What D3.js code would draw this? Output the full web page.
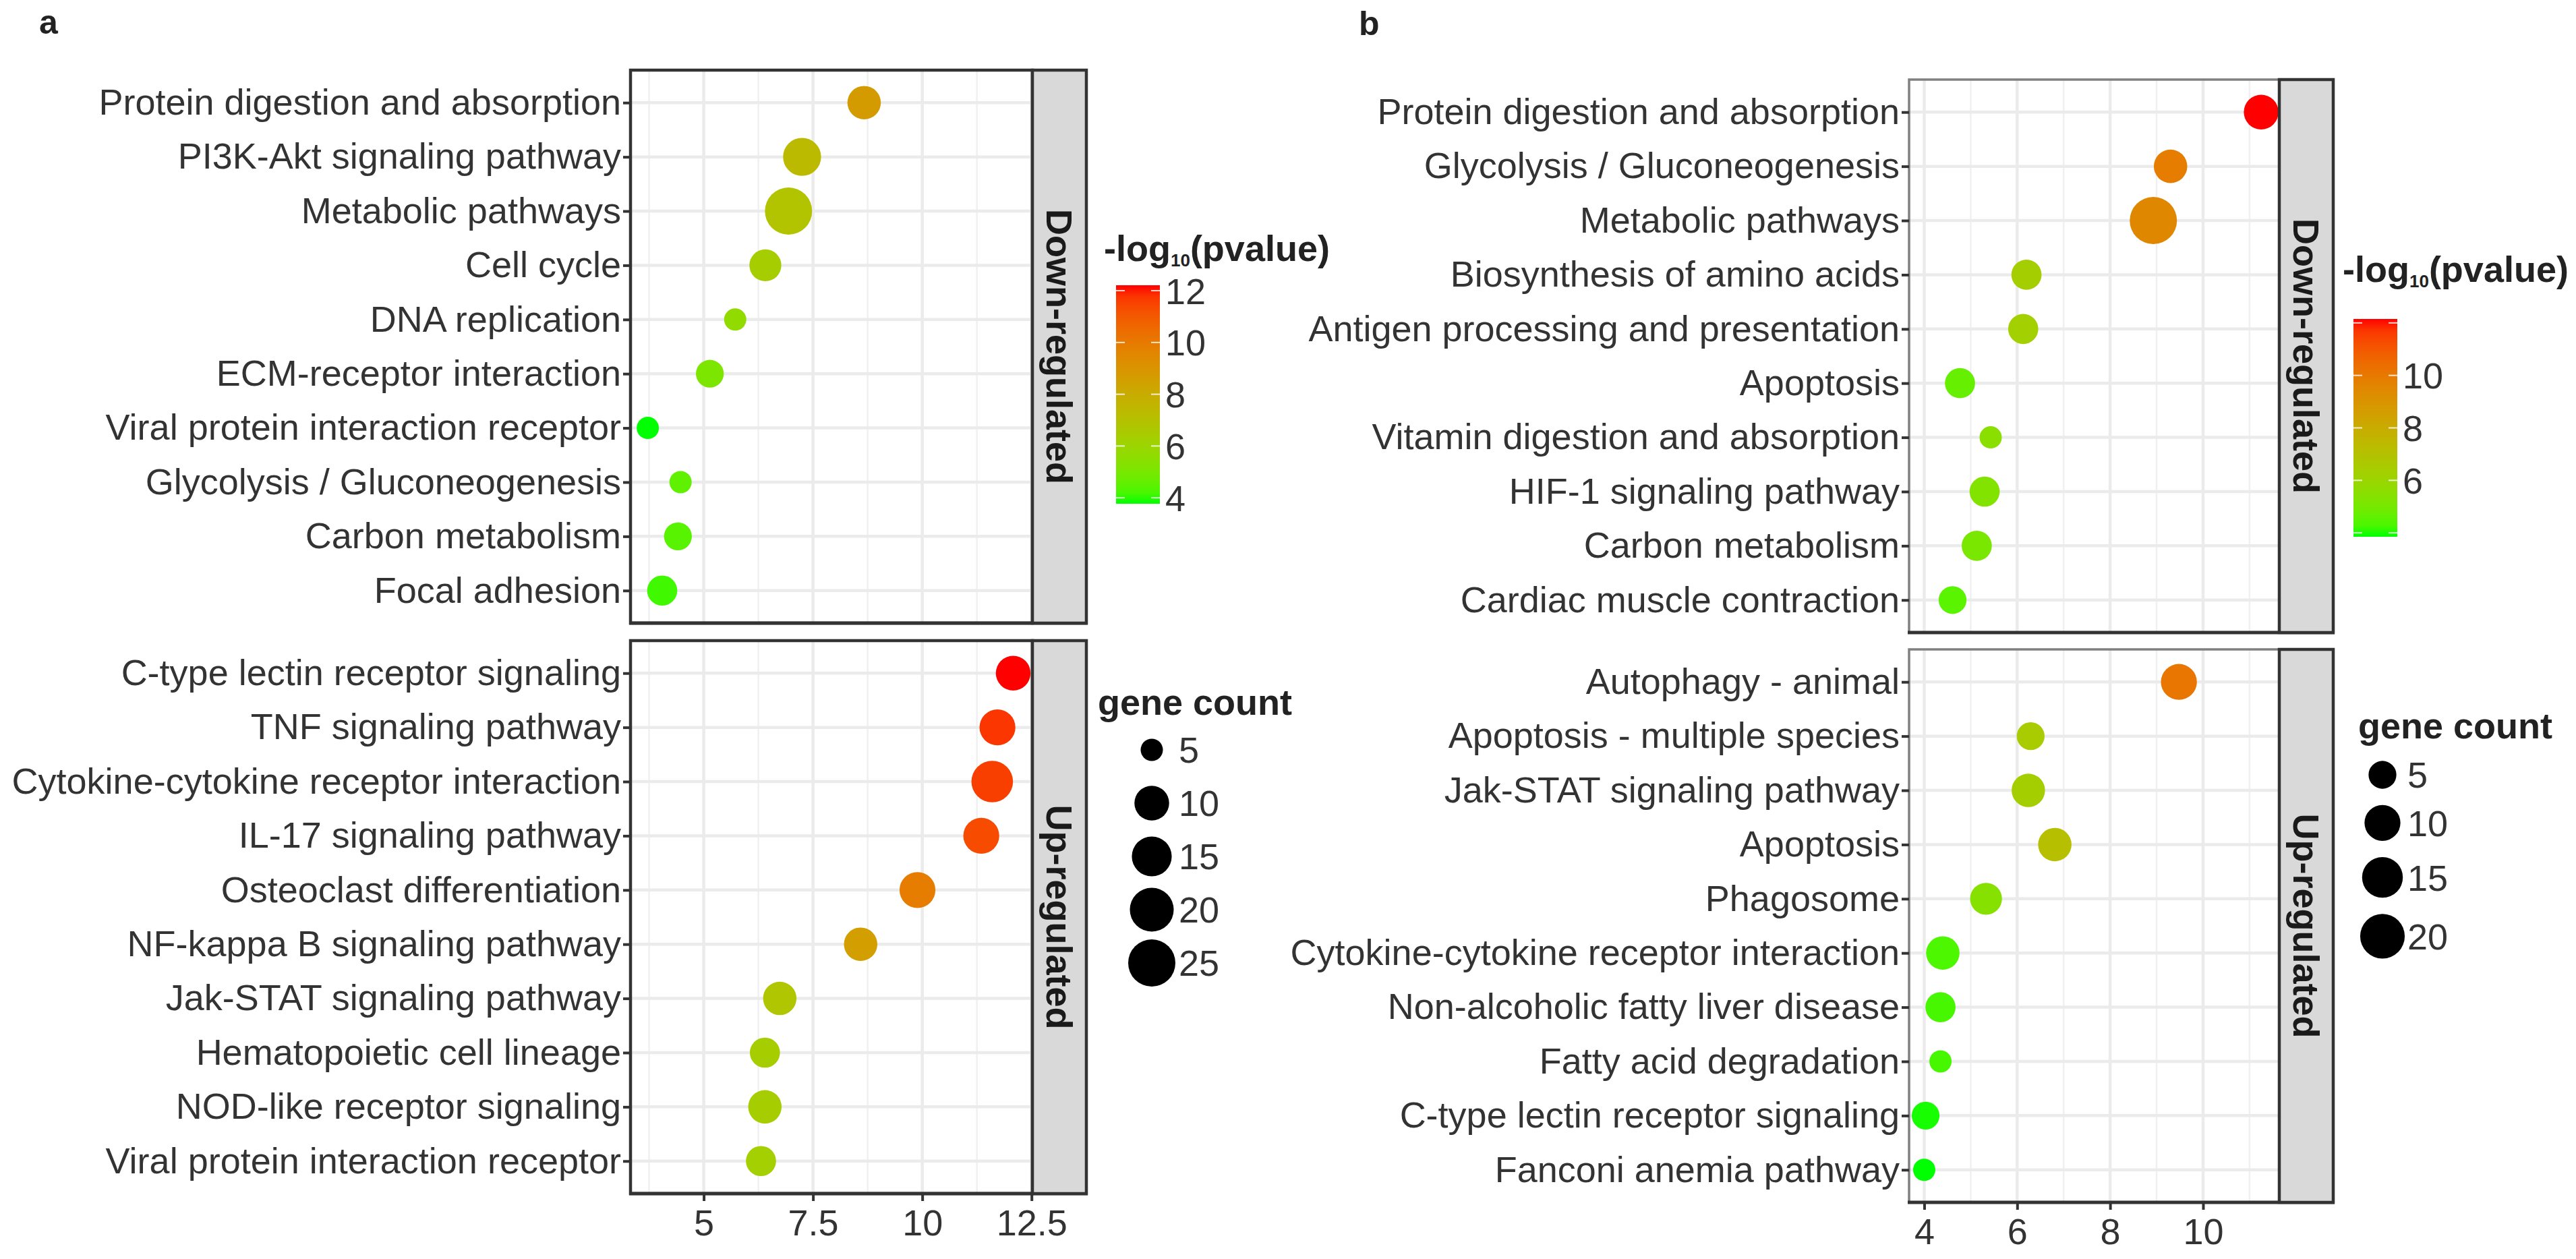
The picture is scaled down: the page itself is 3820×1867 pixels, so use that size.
<!DOCTYPE html>
<html>
<head>
<meta charset="utf-8">
<script src="https://cdn.jsdelivr.net/npm/d3@7"></script>
<style>
  body { margin: 0; background: #fff; }
  svg { display: block; font-family: "Liberation Sans", Arial, sans-serif; }
</style>
</head>
<body>
<svg id="chart"></svg>
<script>
// ---- panel a data ----
const termsADown = ["Protein digestion and absorption", "PI3K-Akt signaling pathway", "Metabolic pathways", "Cell cycle",
  "DNA replication", "ECM-receptor interaction", "Viral protein interaction receptor", "Glycolysis / Gluconeogenesis",
  "Carbon metabolism", "Focal adhesion"];
const xADown = [8.67, 7.25, 6.94, 6.41, 5.72, 5.14, 3.72, 4.47, 4.41, 4.05];
const pADown = [8.7, 7.3, 6.9, 6.4, 5.7, 5.1, 3.77, 4.5, 4.4, 4.1];
const countADown = [9, 13, 25, 8, 5, 6, 5, 5, 6, 7];

const termsAUp = ["C-type lectin receptor signaling", "TNF signaling pathway", "Cytokine-cytokine receptor interaction",
  "IL-17 signaling pathway", "Osteoclast differentiation", "NF-kappa B signaling pathway", "Jak-STAT signaling pathway",
  "Hematopoietic cell lineage", "NOD-like receptor signaling", "Viral protein interaction receptor"];
const xAUp = [12.08, 11.72, 11.6, 11.35, 9.89, 8.59, 6.74, 6.40, 6.40, 6.31];
const pAUp = [12.21, 11.75, 11.6, 11.35, 9.9, 8.6, 6.75, 6.4, 6.4, 6.3];
const countAUp = [10, 11, 17, 11, 11, 9, 9, 7, 9, 7];

const ticksA = [5, 7.5, 10, 12.5];
const minorA = [3.75, 6.25, 8.75, 11.25];
const colourTicksA = [4, 6, 8, 10, 12];
const colourLabelsA = [4, 6, 8, 10, 12];
const sizeBreaksA = [5, 10, 15, 20, 25];

// ---- panel b data ----
const termsBDown = ["Protein digestion and absorption", "Glycolysis / Gluconeogenesis", "Metabolic pathways",
  "Biosynthesis of amino acids", "Antigen processing and presentation", "Apoptosis", "Vitamin digestion and absorption",
  "HIF-1 signaling pathway", "Carbon metabolism", "Cardiac muscle contraction"];
const xBDown = [11.25, 9.30, 8.93, 6.20, 6.13, 4.77, 5.43, 5.30, 5.13, 4.61];
const pBDown = [12.15, 9.9, 9.5, 6.4, 6.3, 4.7, 5.5, 5.3, 5.1, 4.5];
const countBDown = [9, 8, 24, 6, 6, 6, 4, 6, 6, 5];

const termsBUp = ["Autophagy - animal", "Apoptosis - multiple species", "Jak-STAT signaling pathway", "Apoptosis",
  "Phagosome", "Cytokine-cytokine receptor interaction", "Non-alcoholic fatty liver disease", "Fatty acid degradation",
  "C-type lectin receptor signaling", "Fanconi anemia pathway"];
const xBUp = [9.48, 6.29, 6.24, 6.81, 5.33, 4.40, 4.35, 4.35, 4.03, 4.00];
const pBUp = [10.1, 6.5, 6.4, 7.1, 5.4, 4.3, 4.25, 4.25, 3.9, 3.85];
const countBUp = [10, 5, 8, 8, 7, 8, 6, 4, 5, 4];

const ticksB = [4, 6, 8, 10];
const minorB = [5, 7, 9, 11];
const colourTicksB = [4, 6, 8, 10, 12];
const colourLabelsB = [6, 8, 10];
const sizeBreaksB = [5, 10, 15, 20];

const facetNames = ["Down-regulated", "Up-regulated"];

const W = 3820, H = 1867;
const FS = 54;
const TXT = "#333";

const svg = d3.select("#chart").attr("width", W).attr("height", H);

function makeColour(values) {
  return d3.scaleLinear().domain(d3.extent(values)).range(["#00ff00", "#ff0000"]).interpolate(d3.interpolateLab);
}

function makeRadius(counts) {
  const [lo, hi] = d3.extent(counts);
  const r = d3.scaleLinear().domain([0, 1]).range([16.5, 35]);
  return v => r(Math.sqrt((v - lo) / (hi - lo)));
}

function drawPanel(cfg) {
  const x = d3.scaleLinear().domain(cfg.xDomain).range([cfg.left, cfg.right]);
  const colour = makeColour(cfg.facets.flatMap(f => f.p));
  const radius = makeRadius(cfg.facets.flatMap(f => f.n));

  cfg.facets.forEach((f, fi) => {
    const g = svg.append("g");
    const y = d3.scalePoint().domain(f.terms).range([f.top, f.bottom]).padding(0.6);

    // grid
    g.selectAll(".minor").data(cfg.minor).join("line")
      .attr("x1", d => x(d)).attr("x2", d => x(d))
      .attr("y1", f.top).attr("y2", f.bottom)
      .attr("stroke", "#f0f0f0").attr("stroke-width", 2.5);
    g.selectAll(".major").data(cfg.ticks).join("line")
      .attr("x1", d => x(d)).attr("x2", d => x(d))
      .attr("y1", f.top).attr("y2", f.bottom)
      .attr("stroke", "#ebebeb").attr("stroke-width", 4.5);
    g.selectAll(".hgrid").data(f.terms).join("line")
      .attr("x1", cfg.left).attr("x2", cfg.right)
      .attr("y1", d => y(d)).attr("y2", d => y(d))
      .attr("stroke", "#ebebeb").attr("stroke-width", 4.5);

    // points
    const pts = f.terms.map((t, i) => ({ t, x: f.x[i], p: f.p[i], n: f.n[i] }));
    g.selectAll("circle").data(pts).join("circle")
      .attr("cx", d => x(d.x))
      .attr("cy", d => y(d.t))
      .attr("r", d => radius(d.n))
      .attr("fill", d => colour(d.p));

    // panel border
    g.append("rect")
      .attr("x", cfg.left).attr("y", f.top)
      .attr("width", cfg.right - cfg.left).attr("height", f.bottom - f.top)
      .attr("fill", "none").attr("stroke", cfg.border).attr("stroke-width", cfg.borderW);
    g.append("line")
      .attr("x1", cfg.left - 2).attr("x2", cfg.right + cfg.stripW + 2)
      .attr("y1", f.bottom).attr("y2", f.bottom)
      .attr("stroke", "#333").attr("stroke-width", 5);

    // strip
    g.append("rect")
      .attr("x", cfg.right).attr("y", f.top)
      .attr("width", cfg.stripW).attr("height", f.bottom - f.top)
      .attr("fill", "#d9d9d9").attr("stroke", "#333").attr("stroke-width", 4.5);
    g.append("text")
      .attr("transform", `translate(${cfg.right + cfg.stripW / 2},${(f.top + f.bottom) / 2}) rotate(90)`)
      .attr("text-anchor", "middle").attr("dy", "0.36em")
      .attr("font-size", FS).attr("font-weight", "bold").attr("fill", "#1a1a1a")
      .text(facetNames[fi]);

    // y axis
    const ya = g.append("g").attr("transform", `translate(${cfg.left},0)`)
      .call(d3.axisLeft(y).tickSize(11).tickPadding(3));
    ya.select(".domain").remove();
    ya.selectAll(".tick line").attr("stroke", "#333").attr("stroke-width", 4);
    ya.selectAll(".tick text").attr("font-size", FS).attr("fill", TXT)
      .attr("font-family", "'Liberation Sans', Arial, sans-serif");

    // x axis on the last facet
    if (fi === cfg.facets.length - 1) {
      const xa = g.append("g").attr("transform", `translate(0,${f.bottom})`)
        .call(d3.axisBottom(x).tickValues(cfg.ticks).tickFormat(d => String(d)).tickSize(11).tickPadding(13));
      xa.select(".domain").remove();
      xa.selectAll(".tick line").attr("stroke", "#333").attr("stroke-width", 4);
      xa.selectAll(".tick text").attr("font-size", FS).attr("fill", TXT)
        .attr("font-family", "'Liberation Sans', Arial, sans-serif");
    }
  });

  // panel letter
  svg.append("text").attr("x", cfg.letterX).attr("y", cfg.letterY)
    .attr("font-size", 50).attr("font-weight", "bold").attr("fill", "#222").text(cfg.letter);

  // colour legend
  const L = cfg.legend;
  const title = svg.append("text").attr("x", L.titleX).attr("y", L.titleY)
    .attr("font-size", FS).attr("font-weight", "bold").attr("fill", "#222");
  title.append("tspan").text("-log");
  title.append("tspan").attr("font-size", 26).attr("dy", 8).text("10");
  title.append("tspan").attr("dy", -8).text("(pvalue)");

  const cd = colour.domain();
  const cy = d3.scaleLinear().domain(cd).range([L.barBottom, L.barTop]);
  const gradId = "grad" + cfg.letter;
  const grad = svg.append("defs").append("linearGradient").attr("id", gradId)
    .attr("x1", 0).attr("x2", 0).attr("y1", 1).attr("y2", 0);
  d3.range(0, 1.0001, 0.05).forEach(t => {
    grad.append("stop").attr("offset", t).attr("stop-color", colour(cd[0] + t * (cd[1] - cd[0])));
  });
  svg.append("rect").attr("x", L.barX).attr("y", L.barTop)
    .attr("width", L.barW).attr("height", L.barBottom - L.barTop).attr("fill", `url(#${gradId})`);
  L.ticks.forEach(v => {
    [L.barX, L.barX + L.barW - 13].forEach(x0 => {
      svg.append("line").attr("x1", x0).attr("x2", x0 + 13).attr("y1", cy(v)).attr("y2", cy(v))
        .attr("stroke", "#fff").attr("stroke-opacity", 0.8).attr("stroke-width", 2);
    });
  });
  svg.selectAll(null).data(L.labels).join("text")
    .attr("x", L.barX + L.barW + 8).attr("y", d => cy(d)).attr("dy", "0.36em")
    .attr("font-size", FS).attr("fill", TXT).text(d => d);

  // size legend
  const S = cfg.size;
  svg.append("text").attr("x", S.titleX).attr("y", S.titleY)
    .attr("font-size", FS).attr("font-weight", "bold").attr("fill", "#222").text("gene count");
  let yy = S.firstY;
  S.breaks.forEach((b, i) => {
    const r = radius(b);
    if (i > 0) yy += S.uniform ? S.step : radius(S.breaks[i - 1]) + r + S.gap;
    svg.append("circle").attr("cx", S.cx).attr("cy", yy).attr("r", r).attr("fill", "#000");
    svg.append("text").attr("x", S.labelX).attr("y", yy).attr("dy", "0.36em")
      .attr("font-size", FS).attr("fill", TXT).text(b);
  });
}

drawPanel({
  letter: "a", letterX: 58, letterY: 50,
  left: 935, right: 1531, stripW: 80,
  xDomain: [3.325, 12.52], ticks: ticksA, minor: minorA,
  border: "#333", borderW: 4.5,
  facets: [
    { terms: termsADown, x: xADown, p: pADown, n: countADown, top: 104, bottom: 924 },
    { terms: termsAUp, x: xAUp, p: pAUp, n: countAUp, top: 950, bottom: 1770 }
  ],
  legend: { titleX: 1637, titleY: 387, barX: 1655, barW: 65, barTop: 423, barBottom: 747,
    ticks: colourTicksA, labels: colourLabelsA },
  size: { titleX: 1628, titleY: 1060, cx: 1708, firstY: 1112, uniform: true, step: 79, labelX: 1748,
    breaks: sizeBreaksA }
});

drawPanel({
  letter: "b", letterX: 2015, letterY: 52,
  left: 2831, right: 3380, stripW: 80,
  xDomain: [3.674, 11.64], ticks: ticksB, minor: minorB,
  border: "#808080", borderW: 3.5,
  facets: [
    { terms: termsBDown, x: xBDown, p: pBDown, n: countBDown, top: 118, bottom: 938 },
    { terms: termsBUp, x: xBUp, p: pBUp, n: countBUp, top: 963, bottom: 1783 }
  ],
  legend: { titleX: 3474, titleY: 418, barX: 3490, barW: 65, barTop: 473, barBottom: 796,
    ticks: colourTicksB, labels: colourLabelsB },
  size: { titleX: 3497, titleY: 1095, cx: 3533, firstY: 1149, uniform: false, gap: 24, labelX: 3570,
    breaks: sizeBreaksB }
});
</script>
</body>
</html>
